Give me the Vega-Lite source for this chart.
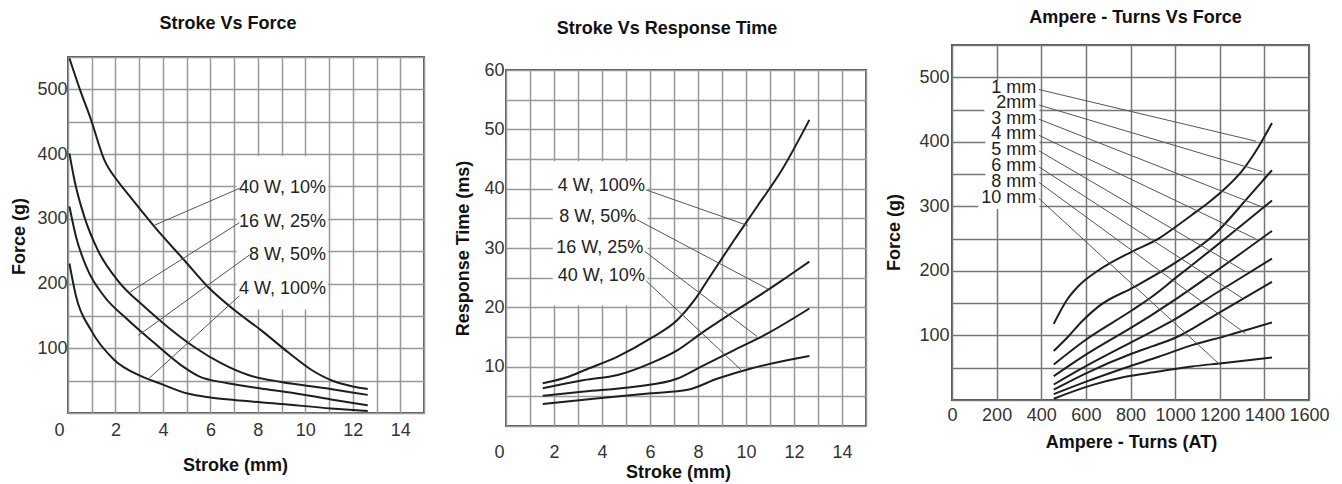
{
  "$schema": "https://vega.github.io/schema/vega-lite/v6.json",
  "background": "white",
  "padding": {"left": 9, "top": 8, "right": 0, "bottom": 0},
  "config": {
    "font": "Liberation Sans",
    "view": {"stroke": null},
    "axis": {
      "labelFont": "Liberation Sans", "labelFontSize": 18, "labelColor": "#333",
      "titleFont": "Liberation Sans", "titleFontSize": 18, "titleFontWeight": "bold", "titleColor": "#111",
      "ticks": false, "tickSize": 0, "domain": false, "grid": true,
      "gridColor": "#999", "gridWidth": 1.5, "gridOpacity": 1,
      "titleAlign": "center", "titleBaseline": "middle"
    },
    "axisX": {"labelFlush": false},
    "title": {"font": "Liberation Sans", "fontSize": 18, "fontWeight": "bold", "color": "#111", "frame": "group", "anchor": "middle", "baseline": "middle"}
  },
  "datasets": {
    "p1curves": [
      {"s": "40W", "x": 0.06, "y": 548}, {"s": "40W", "x": 0.5, "y": 500}, {"s": "40W", "x": 0.97, "y": 453}, {"s": "40W", "x": 1.53, "y": 391}, {"s": "40W", "x": 2.1, "y": 358}, {"s": "40W", "x": 2.51, "y": 339}, {"s": "40W", "x": 3.64, "y": 288}, {"s": "40W", "x": 4.9, "y": 236}, {"s": "40W", "x": 5.89, "y": 195}, {"s": "40W", "x": 7.01, "y": 159}, {"s": "40W", "x": 8.13, "y": 128}, {"s": "40W", "x": 9.3, "y": 93}, {"s": "40W", "x": 10.2, "y": 68}, {"s": "40W", "x": 11.2, "y": 49}, {"s": "40W", "x": 12.0, "y": 41}, {"s": "40W", "x": 12.63, "y": 37},
      {"s": "16W", "x": 0.06, "y": 401}, {"s": "16W", "x": 0.27, "y": 360}, {"s": "16W", "x": 0.69, "y": 303}, {"s": "16W", "x": 1.25, "y": 252}, {"s": "16W", "x": 2.09, "y": 205}, {"s": "16W", "x": 3.22, "y": 164}, {"s": "16W", "x": 4.2, "y": 133}, {"s": "16W", "x": 5.32, "y": 102}, {"s": "16W", "x": 6.45, "y": 77}, {"s": "16W", "x": 7.57, "y": 59}, {"s": "16W", "x": 8.98, "y": 48}, {"s": "16W", "x": 10.94, "y": 38}, {"s": "16W", "x": 12.63, "y": 28},
      {"s": "8W", "x": 0.06, "y": 319}, {"s": "8W", "x": 0.34, "y": 272}, {"s": "8W", "x": 0.83, "y": 221}, {"s": "8W", "x": 1.53, "y": 180}, {"s": "8W", "x": 2.52, "y": 144}, {"s": "8W", "x": 3.64, "y": 108}, {"s": "8W", "x": 4.76, "y": 74}, {"s": "8W", "x": 5.5, "y": 57}, {"s": "8W", "x": 6.73, "y": 46}, {"s": "8W", "x": 8.13, "y": 38}, {"s": "8W", "x": 9.5, "y": 31}, {"s": "8W", "x": 11.08, "y": 21}, {"s": "8W", "x": 12.63, "y": 12},
      {"s": "4W", "x": 0.06, "y": 231}, {"s": "4W", "x": 0.34, "y": 180}, {"s": "4W", "x": 0.97, "y": 128}, {"s": "4W", "x": 1.95, "y": 82}, {"s": "4W", "x": 3.08, "y": 57}, {"s": "4W", "x": 3.92, "y": 45}, {"s": "4W", "x": 5.04, "y": 30}, {"s": "4W", "x": 6.0, "y": 24}, {"s": "4W", "x": 7.0, "y": 20}, {"s": "4W", "x": 8.98, "y": 14}, {"s": "4W", "x": 11.08, "y": 7}, {"s": "4W", "x": 12.63, "y": 3}
    ],
    "p1leaders": [
      {"x": 7.22, "y": 347, "x2": 3.64, "y2": 290},
      {"x": 7.22, "y": 294, "x2": 2.58, "y2": 186},
      {"x": 7.64, "y": 244, "x2": 2.97, "y2": 120},
      {"x": 7.22, "y": 181, "x2": 3.43, "y2": 54}
    ],
    "p1labels": [
      {"t": "40 W, 10%", "x": 10.87, "y": 348},
      {"t": "16 W, 25%", "x": 10.87, "y": 295},
      {"t": "8 W, 50%", "x": 10.87, "y": 244},
      {"t": "4 W, 100%", "x": 10.87, "y": 191}
    ],
    "p1box": [{"x": 7.1, "x2": 10.95, "y": 160, "y2": 397}],
    "p2curves": [
      {"s": "4W", "x": 1.53, "y": 7.2}, {"s": "4W", "x": 2.6, "y": 8.3}, {"s": "4W", "x": 3.26, "y": 9.4}, {"s": "4W", "x": 4.65, "y": 11.7}, {"s": "4W", "x": 6.04, "y": 14.8}, {"s": "4W", "x": 7.15, "y": 17.9}, {"s": "4W", "x": 7.85, "y": 21.2}, {"s": "4W", "x": 8.5, "y": 25.2}, {"s": "4W", "x": 9.5, "y": 31.3}, {"s": "4W", "x": 10.5, "y": 37.2}, {"s": "4W", "x": 11.5, "y": 43.2}, {"s": "4W", "x": 12.64, "y": 51.6},
      {"s": "8W", "x": 1.53, "y": 6.35}, {"s": "8W", "x": 3.26, "y": 7.75}, {"s": "8W", "x": 4.65, "y": 8.6}, {"s": "8W", "x": 6.04, "y": 10.6}, {"s": "8W", "x": 7.15, "y": 12.8}, {"s": "8W", "x": 8.13, "y": 15.6}, {"s": "8W", "x": 9.51, "y": 19.3}, {"s": "8W", "x": 10.9, "y": 22.9}, {"s": "8W", "x": 11.74, "y": 25.2}, {"s": "8W", "x": 12.64, "y": 27.7},
      {"s": "16W", "x": 1.53, "y": 5.1}, {"s": "16W", "x": 3.26, "y": 5.8}, {"s": "16W", "x": 5.35, "y": 6.6}, {"s": "16W", "x": 7.15, "y": 8.0}, {"s": "16W", "x": 8.13, "y": 10.0}, {"s": "16W", "x": 9.51, "y": 12.8}, {"s": "16W", "x": 10.9, "y": 15.6}, {"s": "16W", "x": 12.64, "y": 19.8},
      {"s": "40W", "x": 1.53, "y": 3.7}, {"s": "40W", "x": 3.96, "y": 4.7}, {"s": "40W", "x": 6.04, "y": 5.5}, {"s": "40W", "x": 7.57, "y": 6.1}, {"s": "40W", "x": 8.82, "y": 8.0}, {"s": "40W", "x": 10.21, "y": 9.7}, {"s": "40W", "x": 12.64, "y": 11.8}
    ],
    "p2leaders": [
      {"x": 5.83, "y": 39.8, "x2": 10.07, "y2": 33.8},
      {"x": 5.44, "y": 34.8, "x2": 10.95, "y2": 23.0},
      {"x": 5.79, "y": 29.4, "x2": 10.46, "y2": 15.1},
      {"x": 5.83, "y": 24.5, "x2": 9.86, "y2": 9.2}
    ],
    "p2labels": [
      {"t": "4 W, 100%", "x": 2.16, "y": 40.4},
      {"t": "8 W, 50%", "x": 2.22, "y": 35.3},
      {"t": "16 W, 25%", "x": 2.09, "y": 30.0},
      {"t": "40 W, 10%", "x": 2.16, "y": 25.2}
    ],
    "p2box": [{"x": 1.95, "x2": 5.9, "y": 20.3, "y2": 44.6}],
    "p3curves": [
      {"s": "1", "x": 456, "y": 118}, {"s": "1", "x": 515, "y": 155}, {"s": "1", "x": 568, "y": 177}, {"s": "1", "x": 657, "y": 201}, {"s": "1", "x": 807, "y": 230}, {"s": "1", "x": 926, "y": 250}, {"s": "1", "x": 1001, "y": 268}, {"s": "1", "x": 1076, "y": 287}, {"s": "1", "x": 1150, "y": 306}, {"s": "1", "x": 1225, "y": 328}, {"s": "1", "x": 1300, "y": 355}, {"s": "1", "x": 1370, "y": 390}, {"s": "1", "x": 1434, "y": 429},
      {"s": "2", "x": 456, "y": 76}, {"s": "2", "x": 520, "y": 98}, {"s": "2", "x": 583, "y": 122}, {"s": "2", "x": 657, "y": 145}, {"s": "2", "x": 822, "y": 176}, {"s": "2", "x": 998, "y": 212}, {"s": "2", "x": 1181, "y": 258}, {"s": "2", "x": 1330, "y": 315}, {"s": "2", "x": 1434, "y": 356},
      {"s": "3", "x": 456, "y": 55}, {"s": "3", "x": 598, "y": 93}, {"s": "3", "x": 807, "y": 139}, {"s": "3", "x": 896, "y": 160}, {"s": "3", "x": 998, "y": 188}, {"s": "3", "x": 1181, "y": 238}, {"s": "3", "x": 1434, "y": 309},
      {"s": "4", "x": 456, "y": 37}, {"s": "4", "x": 598, "y": 70}, {"s": "4", "x": 807, "y": 113}, {"s": "4", "x": 896, "y": 132}, {"s": "4", "x": 998, "y": 155}, {"s": "4", "x": 1181, "y": 199}, {"s": "4", "x": 1434, "y": 262},
      {"s": "5", "x": 456, "y": 24}, {"s": "5", "x": 598, "y": 52}, {"s": "5", "x": 807, "y": 90}, {"s": "5", "x": 896, "y": 106}, {"s": "5", "x": 998, "y": 125}, {"s": "5", "x": 1181, "y": 165}, {"s": "5", "x": 1434, "y": 219},
      {"s": "6", "x": 456, "y": 16}, {"s": "6", "x": 598, "y": 41}, {"s": "6", "x": 807, "y": 72}, {"s": "6", "x": 896, "y": 83}, {"s": "6", "x": 998, "y": 96}, {"s": "6", "x": 1181, "y": 132}, {"s": "6", "x": 1434, "y": 183},
      {"s": "8", "x": 456, "y": 9}, {"s": "8", "x": 598, "y": 28}, {"s": "8", "x": 777, "y": 50}, {"s": "8", "x": 926, "y": 67}, {"s": "8", "x": 1076, "y": 85}, {"s": "8", "x": 1225, "y": 99}, {"s": "8", "x": 1434, "y": 120},
      {"s": "10", "x": 456, "y": 2}, {"s": "10", "x": 627, "y": 23}, {"s": "10", "x": 777, "y": 36}, {"s": "10", "x": 926, "y": 44}, {"s": "10", "x": 1076, "y": 52}, {"s": "10", "x": 1210, "y": 57}, {"s": "10", "x": 1434, "y": 66}
    ],
    "p3leaders": [
      {"x": 390, "y": 481, "x2": 1362, "y2": 401},
      {"x": 390, "y": 457, "x2": 1390, "y2": 354},
      {"x": 390, "y": 435, "x2": 1390, "y2": 299},
      {"x": 390, "y": 410, "x2": 1360, "y2": 250},
      {"x": 390, "y": 386, "x2": 1315, "y2": 199},
      {"x": 390, "y": 361, "x2": 1300, "y2": 158},
      {"x": 390, "y": 337, "x2": 1315, "y2": 103},
      {"x": 390, "y": 312, "x2": 1203, "y2": 54}
    ],
    "p3labels": [
      {"t": "1 mm", "x": 378, "y": 483},
      {"t": "2mm", "x": 378, "y": 459.6},
      {"t": "3 mm", "x": 378, "y": 435},
      {"t": "4 mm", "x": 378, "y": 411.5},
      {"t": "5 mm", "x": 378, "y": 387.5},
      {"t": "6 mm", "x": 378, "y": 362.5},
      {"t": "8 mm", "x": 378, "y": 338},
      {"t": "10 mm", "x": 378, "y": 313}
    ],
    "p3box": [
      {"x": 150, "x2": 392, "y": 470.5, "y2": 495.5},
      {"x": 145, "x2": 392, "y": 447, "y2": 472},
      {"x": 150, "x2": 392, "y": 422.5, "y2": 447.5},
      {"x": 150, "x2": 392, "y": 399, "y2": 424},
      {"x": 150, "x2": 392, "y": 375, "y2": 400},
      {"x": 150, "x2": 392, "y": 350, "y2": 375},
      {"x": 150, "x2": 392, "y": 325, "y2": 351},
      {"x": 118, "x2": 392, "y": 296, "y2": 326}
    ]
  },
  "spacing": 28,
  "hconcat": [
    {
      "bounds": "flush",
      "spacing": 0,
      "vconcat": [
        {"width": 356, "height": 13, "data": {"values": [{"k": 0}]}, "mark": {"type": "point", "opacity": 0}},
        {
          "width": 356, "height": 356,
          "view": {"stroke": "#555", "strokeWidth": 2},
          "title": {"text": "Stroke Vs Force", "dx": -18, "offset": 21},
          "encoding": {
            "x": {"field": "x", "type": "quantitative", "scale": {"domain": [0, 15], "nice": false, "zero": false},
              "axis": {"values": [0, 1, 2, 3, 4, 5, 6, 7, 8, 9, 10, 11, 12, 13, 14, 15],
                "labelExpr": "datum.value % 2 === 0 && datum.value < 15 ? datum.label : ''",
                "labelPadding": 17, "labelBaseline": "middle",
                "labelOffset": {"condition": {"test": "datum.value === 0", "value": -9}, "value": 0},
                "title": "Stroke (mm)", "titleX": 167, "titleY": 52}},
            "y": {"field": "y", "type": "quantitative", "scale": {"domain": [0, 550], "nice": false},
              "axis": {"values": [0, 50, 100, 150, 200, 250, 300, 350, 400, 450, 500, 550],
                "labelExpr": "datum.value % 100 === 0 && datum.value > 0 ? datum.label : ''",
                "labelPadding": 1, "title": "Force (g)", "titleX": -49, "titleY": 179}}
          },
          "layer": [
            {"data": {"name": "p1box"}, "mark": {"type": "rect", "fill": "white", "strokeWidth": 0}, "encoding": {"x2": {"field": "x2"}, "y2": {"field": "y2"}}},
            {"data": {"name": "p1curves"}, "mark": {"type": "line", "color": "#1e1e1e", "strokeWidth": 2, "interpolate": "monotone"}, "encoding": {"detail": {"field": "s"}}},
            {"data": {"name": "p1leaders"}, "mark": {"type": "rule", "color": "#555", "strokeWidth": 1}, "encoding": {"x2": {"field": "x2"}, "y2": {"field": "y2"}}},
            {"data": {"name": "p1labels"}, "mark": {"type": "text", "align": "right", "baseline": "middle", "fontSize": 18, "font": "Liberation Sans", "color": "#222"}, "encoding": {"text": {"field": "t"}}}
          ]
        }
      ]
    },
    {
      "spacing": 17,
      "hconcat": [
        {
          "bounds": "flush",
          "spacing": 0,
          "vconcat": [
            {"width": 360, "height": 26, "data": {"values": [{"k": 0}]}, "mark": {"type": "point", "opacity": 0}},
            {
              "width": 360, "height": 356,
              "view": {"stroke": "#555", "strokeWidth": 2},
              "title": {"text": "Stroke Vs Response Time", "dx": -19, "offset": 23},
              "encoding": {
                "x": {"field": "x", "type": "quantitative", "scale": {"domain": [0, 15], "nice": false, "zero": false},
                  "axis": {"values": [0, 1, 2, 3, 4, 5, 6, 7, 8, 9, 10, 11, 12, 13, 14, 15],
                    "labelExpr": "datum.value % 2 === 0 && datum.value < 15 ? datum.label : ''",
                    "labelPadding": 26, "labelBaseline": "middle",
                    "labelOffset": {"condition": {"test": "datum.value === 0", "value": -7}, "value": 0},
                    "title": "Stroke (mm)", "titleX": 172, "titleY": 46}},
                "y": {"field": "y", "type": "quantitative", "scale": {"domain": [0, 60], "nice": false},
                  "axis": {"values": [0, 5, 10, 15, 20, 25, 30, 35, 40, 45, 50, 55, 60],
                    "labelExpr": "datum.value % 10 === 0 && datum.value > 0 ? datum.label : ''",
                    "labelPadding": 2, "title": "Response Time (ms)", "titleX": -43, "titleY": 178}}
              },
              "layer": [
                {"data": {"name": "p2box"}, "mark": {"type": "rect", "fill": "white", "strokeWidth": 0}, "encoding": {"x2": {"field": "x2"}, "y2": {"field": "y2"}}},
                {"data": {"name": "p2curves"}, "mark": {"type": "line", "color": "#1e1e1e", "strokeWidth": 2, "interpolate": "monotone"}, "encoding": {"detail": {"field": "s"}}},
                {"data": {"name": "p2leaders"}, "mark": {"type": "rule", "color": "#555", "strokeWidth": 1}, "encoding": {"x2": {"field": "x2"}, "y2": {"field": "y2"}}},
                {"data": {"name": "p2labels"}, "mark": {"type": "text", "align": "left", "baseline": "middle", "fontSize": 18, "font": "Liberation Sans", "color": "#222"}, "encoding": {"text": {"field": "t"}}}
              ]
            }
          ]
        },
        {
          "bounds": "flush",
          "spacing": 0,
          "vconcat": [
            {"width": 357, "height": 1, "data": {"values": [{"k": 0}]}, "mark": {"type": "point", "opacity": 0}},
            {
              "width": 357, "height": 355,
              "view": {"stroke": "#555", "strokeWidth": 2},
              "title": {"text": "Ampere - Turns Vs Force", "dx": 5, "offset": 18},
              "encoding": {
                "x": {"field": "x", "type": "quantitative", "scale": {"domain": [0, 1600], "nice": false, "zero": false},
                  "axis": {"values": [0, 200, 400, 600, 800, 1000, 1200, 1400, 1600], "format": "d",
                    "labelOverlap": false, "labelFlush": false,
                    "labelPadding": 15, "labelBaseline": "middle", "gridColor": "#777",
                    "title": "Ampere - Turns (AT)", "titleX": 179, "titleY": 42}},
                "y": {"field": "y", "type": "quantitative", "scale": {"domain": [0, 550], "nice": false},
                  "axis": {"values": [0, 50, 100, 150, 200, 250, 300, 350, 400, 450, 500, 550],
                    "labelExpr": "datum.value % 100 === 0 && datum.value > 0 ? datum.label : ''",
                    "labelPadding": 3, "gridColor": "#777", "title": "Force (g)", "titleX": -58, "titleY": 187}}
              },
              "layer": [
                {"data": {"name": "p3box"}, "mark": {"type": "rect", "fill": "white", "strokeWidth": 0}, "encoding": {"x2": {"field": "x2"}, "y2": {"field": "y2"}}},
                {"data": {"name": "p3curves"}, "mark": {"type": "line", "color": "#1e1e1e", "strokeWidth": 2, "interpolate": "monotone"}, "encoding": {"detail": {"field": "s"}}},
                {"data": {"name": "p3leaders"}, "mark": {"type": "rule", "color": "#555", "strokeWidth": 1}, "encoding": {"x2": {"field": "x2"}, "y2": {"field": "y2"}}},
                {"data": {"name": "p3labels"}, "mark": {"type": "text", "align": "right", "baseline": "middle", "fontSize": 18, "font": "Liberation Sans", "color": "#222"}, "encoding": {"text": {"field": "t"}}}
              ]
            }
          ]
        }
      ]
    }
  ]
}
